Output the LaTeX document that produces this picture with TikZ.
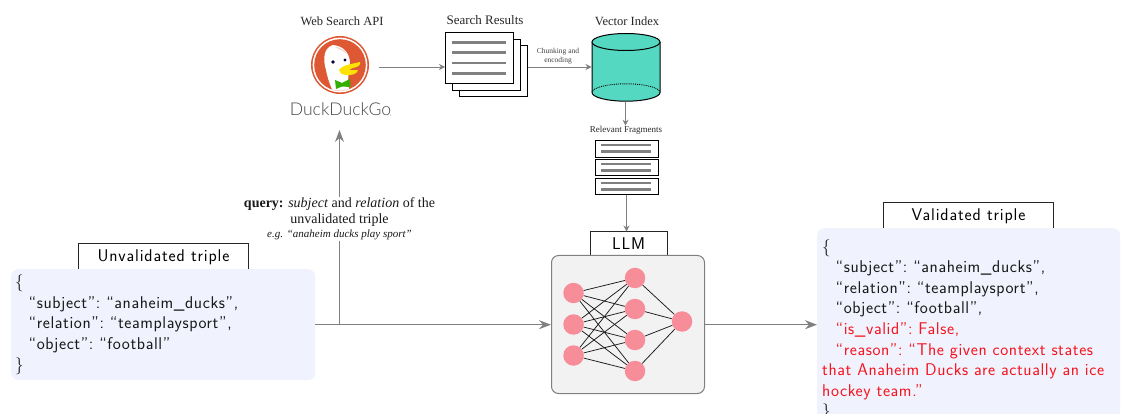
\documentclass[tikz,border=0pt]{standalone}
\usepackage{fontspec}
\setmainfont{Liberation Serif}
\newfontfamily\logofont{Lato Light}
\newfontfamily\tabfont{Latin Modern Sans}[LetterSpace=5]
\newfontfamily\panefont{Latin Modern Sans}[LetterSpace=3.5]
\usetikzlibrary{arrows.meta,shapes.geometric}
\definecolor{flow}{HTML}{808080}
\definecolor{paneblue}{HTML}{F0F3FE}
\definecolor{cyl}{HTML}{55D8C1}
\definecolor{nn}{HTML}{F68D98}
\definecolor{llmbg}{HTML}{F2F2F2}
\definecolor{ddgo}{HTML}{DE5833}
\definecolor{redtxt}{HTML}{F5141E}
\newcommand{\ind}{\hspace*{13.5pt}}
\tikzset{
  x=1pt,y=-1pt,
  bigflow/.style={draw=flow,line width=1pt,-{Stealth[length=12pt,width=9pt,inset=4pt]}},
  smallflow/.style={draw=flow,line width=.8pt,-{Stealth[length=6pt,width=6pt,inset=2pt]}},
  title/.style={font=\fontsize{#1}{#1}\selectfont,inner sep=0pt,text=black!85},
  tab/.style={draw=black!85,line width=1pt,fill=white,inner sep=0pt,font=\tabfont\fontsize{17}{18}\selectfont},
  pane/.style={fill=paneblue,rounded corners=7pt,inner sep=0pt,align=flush left,anchor=north west,text=black!90,
    font=\panefont\fontsize{17}{20.6}\selectfont},
  sheet/.style={draw=black,line width=1pt,fill=white,anchor=north west,inner sep=0pt},
  neuron/.style={circle,fill=nn,minimum size=20.5pt,inner sep=0pt},
  syn/.style={draw=black!90,line width=.75pt},
  textline/.style={draw=flow,line width=2.8pt},
  frag/.style={draw=black,line width=1pt,fill=white,anchor=north west,inner sep=0pt,minimum width=63pt,minimum height=16.5pt},
}
\begin{document}
\begin{tikzpicture}
\useasboundingbox (0,0) rectangle (1122,414);
\clip (0,0) rectangle (1122,414);

% ---------- web search logo
\node[title=12.5] (apilabel) at (342,21.5) {Web Search API};
\fill[ddgo] (340,65) circle (29);
\fill[white] (340,65) circle (27.4);
\fill[ddgo] (340,65) circle (25.8);
\begin{scope}
  \clip (340,65) circle (25.8);
  \fill[white] (333,45) .. controls (323,48) and (323,60) .. (326,70)
    .. controls (328,80) and (331,88) .. (335,95) -- (350,92)
    .. controls (347,85) and (348,78) .. (350,62) .. controls (349,52) and (343,46) .. (333,45) -- cycle;
\end{scope}
\fill[ddgo!25] (335,47) .. controls (340,47) and (345,50) .. (347,54) .. controls (342,50) and (338,49) .. (335,47) -- cycle;
\fill[black!75!blue] (333,62) circle (1.8);
\fill[black!75!blue] (345,60) circle (1.6);
\fill[yellow!85!orange] (339,70) .. controls (342,65) and (352,64) .. (360,62)
  .. controls (361,65) and (358,67) .. (353,68) .. controls (349,69) and (346,71) .. (358,70)
  .. controls (358,74) and (350,76) .. (345,75) .. controls (342,75) and (340,73) .. (339,70) -- cycle;
\fill[green!60!black!80!yellow] (335,80) -- (342,83) -- (350,79) -- (350.5,87) -- (342,86.5) -- (336,89) -- cycle;
\node[inner sep=0pt,text=black!72,font=\logofont\fontsize{17.6}{20}\selectfont] (logotext) at (340.5,109.5) {DuckDuckGo};
\fill[black!65] (390.5,115) circle (.4);
\coordinate (logoout) at (379,67);
\coordinate (logobottom) at (339.5,130);

% ---------- search results
\node[title=13] (srlabel) at (485,20.5) {Search Results};
\node[sheet,minimum width=68pt,minimum height=51pt] (sr3) at (458.5,45.5) {};
\node[sheet,minimum width=68pt,minimum height=51pt] (sr2) at (451.5,39) {};
\node[sheet,minimum width=68pt,minimum height=51pt] (sr1) at (445,32.5) {};
\foreach \yy in {42.5,52.8,63,73.2} \draw[textline] (452,\yy) -- (506,\yy);

% ---------- vector index
\node[title=12.5] (vilabel) at (627,21) {Vector Index};
\fill[cyl] (592,42) -- (592,92.5) arc[start angle=180,end angle=360,x radius=34,y radius=-8.7] -- (660,42) -- cycle;
\draw[black,line width=1pt] (592,42) -- (592,92.5) arc[start angle=180,end angle=360,x radius=34,y radius=-8.7] -- (660,42);
\draw[black,line width=1pt,fill=cyl] (626,42) ellipse[x radius=34,y radius=8.5];
\draw[black,line width=.9pt,densely dotted] (592,92.5) arc[start angle=180,end angle=360,x radius=34,y radius=8.7];
\coordinate (viwest) at (591.5,67);
\coordinate (visouth) at (625.5,102);

\node[inner sep=0pt,align=center,text=black!75,font=\fontsize{7.5}{9}\selectfont] (chunk) at (558,56.5) {Chunking and\\encoding};
\node[title=9] (fraglabel) at (626,130) {Relevant Fragments};

% ---------- fragments
\node[frag] (f1) at (594.5,140.5) {};
\node[frag] (f2) at (594.5,159) {};
\node[frag] (f3) at (594.5,178) {};
\foreach \yy in {145,164,183} {
  \draw[flow,line width=2.6pt] (601,\yy) -- (651,\yy);
  \draw[flow,line width=2.6pt] (601,\yy+6.5) -- (651,\yy+6.5);
}

% ---------- LLM
\node[tab,anchor=north west,minimum width=77pt,minimum height=24pt] (llmtab) at (589.5,231.5) {LLM};
\node[draw=flow,line width=1pt,fill=llmbg,rounded corners=7pt,anchor=north west,minimum width=153pt,minimum height=138pt,inner sep=0pt] (llm) at (551,255) {};
\node[neuron] (a1) at (573.5,293) {};
\node[neuron] (a2) at (573.5,324.5) {};
\node[neuron] (a3) at (573.5,355.5) {};
\node[neuron] (b1) at (635,278) {};
\node[neuron] (b2) at (635,309) {};
\node[neuron] (b3) at (635,340) {};
\node[neuron] (b4) at (635,371) {};
\node[neuron] (c1) at (682,321.5) {};
\foreach \i in {1,2,3} \foreach \j in {1,2,3,4} \draw[syn] (a\i) -- (b\j);
\foreach \j in {1,2,3,4} \draw[syn] (b\j) -- (c1);

% ---------- unvalidated
\node[tab,anchor=north west,minimum width=170pt,minimum height=28pt] (utab) at (78,243) {\raisebox{-1pt}{Unvalidated triple}};
\node[pane,minimum width=304pt,minimum height=111pt,text width=304pt] (unval) at (11,269) {\hspace*{4pt}\{\\
\hspace*{4pt}\ind “subject”:\ “anaheim\_ducks”,\\
\hspace*{4pt}\ind “relation”:\ “teamplaysport”,\\
\hspace*{4pt}\ind “object”:\ “football”\\
\hspace*{4pt}\}};

% ---------- validated
\node[tab,anchor=north west,minimum width=170pt,minimum height=27pt] (vtab) at (883,202) {\raisebox{-1pt}{Validated triple}};
\node[pane,minimum width=303pt,minimum height=204pt,text width=303pt] (val) at (817,228) {\hspace*{5pt}\{\\
\hspace*{5pt}\ind “subject”:\ “anaheim\_ducks”,\\
\hspace*{5pt}\ind “relation”:\ “teamplaysport”,\\
\hspace*{5pt}\ind “object”:\ “football”,\\
\hspace*{5pt}\ind \textcolor{redtxt}{“is\_valid”:\ False,}\\
\hspace*{5pt}\ind \textcolor{redtxt}{“reason”:\ “The given context states}\\
\hspace*{5pt}\textcolor{redtxt}{that Anaheim Ducks are actually an ice}\\
\hspace*{5pt}\textcolor{redtxt}{hockey team.”}\\
\hspace*{5pt}\}};

% ---------- connectors
\coordinate (branch) at (logobottom |- unval.east);
\draw[smallflow] (logoout) -- (sr1.west |- logoout);
\draw[smallflow] (sr3.east |- logoout) -- (viwest);
\draw[smallflow] (visouth) -- (visouth |- fraglabel.north);
\draw[smallflow] (f3.south) -- (f3.south |- llmtab.north);
\draw[bigflow] (unval.east) -- (llm.west |- unval.east);
\draw[bigflow] (llm.east |- unval.east) -- (val.west |- unval.east);
\draw[bigflow] (branch) -- (logobottom);

\node[fill=white,inner sep=1pt,align=center,font=\fontsize{14}{16}\selectfont,text=black!90] (query) at (339.5,219) {\textbf{query:} \textit{subject} and \textit{relation} of the\\unvalidated triple\\[-1.5pt]{\fontsize{11}{12}\selectfont\textit{e.g. “anaheim ducks play sport”}}};
\end{tikzpicture}
\end{document}
